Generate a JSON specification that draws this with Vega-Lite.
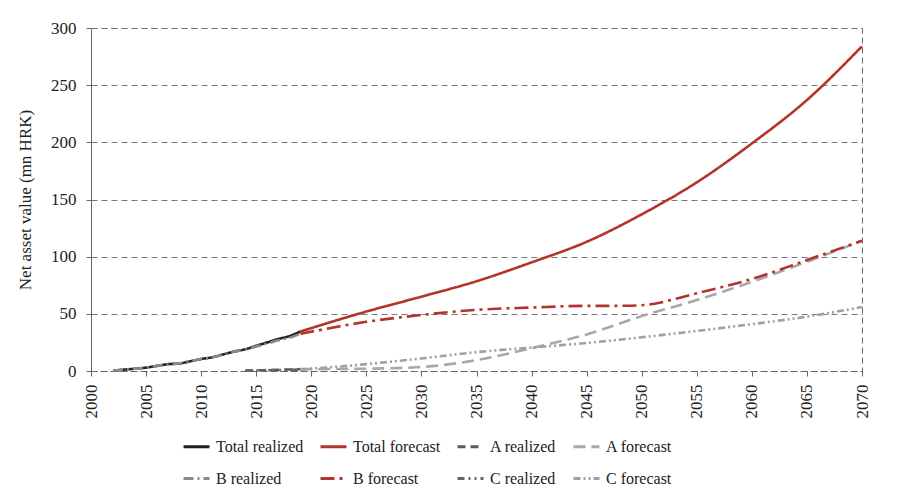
{
  "$schema": "https://vega.github.io/schema/vega-lite/v6.json",
  "width": 771,
  "height": 343,
  "autosize": {"type": "none"},
  "padding": {"left": 91, "top": 28, "right": 38, "bottom": 122},
  "background": "white",
  "config": {
    "font": "Liberation Serif",
    "view": {"stroke": "#666", "strokeDash": [6, 4], "strokeWidth": 1},
    "axis": {
      "labelFont": "Liberation Serif",
      "titleFont": "Liberation Serif",
      "labelFontSize": 17,
      "titleFontSize": 17,
      "labelColor": "#222",
      "titleColor": "#222",
      "titleFontWeight": "normal",
      "domainColor": "#666",
      "domainDash": [6, 4],
      "tickColor": "#666",
      "tickSize": 5,
      "gridColor": "#777",
      "gridDash": [6, 4]
    },
    "legend": {
      "labelFont": "Liberation Serif",
      "labelFontSize": 16,
      "labelColor": "#222"
    }
  },
  "data": {
    "values": [
      {"year": 2002, "value": 0.3, "series": "Total realized"},
      {"year": 2003, "value": 1.2, "series": "Total realized"},
      {"year": 2004, "value": 2.0, "series": "Total realized"},
      {"year": 2005, "value": 3.0, "series": "Total realized"},
      {"year": 2006, "value": 4.5, "series": "Total realized"},
      {"year": 2007, "value": 6.0, "series": "Total realized"},
      {"year": 2008, "value": 6.5, "series": "Total realized"},
      {"year": 2009, "value": 8.5, "series": "Total realized"},
      {"year": 2010, "value": 10.5, "series": "Total realized"},
      {"year": 2011, "value": 12.0, "series": "Total realized"},
      {"year": 2012, "value": 14.5, "series": "Total realized"},
      {"year": 2013, "value": 17.0, "series": "Total realized"},
      {"year": 2014, "value": 19.0, "series": "Total realized"},
      {"year": 2015, "value": 22.0, "series": "Total realized"},
      {"year": 2016, "value": 25.0, "series": "Total realized"},
      {"year": 2017, "value": 28.0, "series": "Total realized"},
      {"year": 2018, "value": 30.5, "series": "Total realized"},
      {"year": 2019, "value": 34.5, "series": "Total realized"},

      {"year": 2019, "value": 34.5, "series": "Total forecast"},
      {"year": 2025, "value": 52, "series": "Total forecast"},
      {"year": 2030, "value": 65, "series": "Total forecast"},
      {"year": 2035, "value": 78.5, "series": "Total forecast"},
      {"year": 2040, "value": 95, "series": "Total forecast"},
      {"year": 2045, "value": 113, "series": "Total forecast"},
      {"year": 2050, "value": 137, "series": "Total forecast"},
      {"year": 2055, "value": 165, "series": "Total forecast"},
      {"year": 2060, "value": 199, "series": "Total forecast"},
      {"year": 2065, "value": 237, "series": "Total forecast"},
      {"year": 2070, "value": 284, "series": "Total forecast"},

      {"year": 2014, "value": 0.3, "series": "A realized"},
      {"year": 2015, "value": 0.6, "series": "A realized"},
      {"year": 2016, "value": 0.8, "series": "A realized"},
      {"year": 2017, "value": 1.0, "series": "A realized"},
      {"year": 2018, "value": 1.3, "series": "A realized"},
      {"year": 2019, "value": 1.6, "series": "A realized"},

      {"year": 2019, "value": 1.6, "series": "A forecast"},
      {"year": 2025, "value": 2.0, "series": "A forecast"},
      {"year": 2030, "value": 3.5, "series": "A forecast"},
      {"year": 2035, "value": 9.5, "series": "A forecast"},
      {"year": 2040, "value": 20, "series": "A forecast"},
      {"year": 2045, "value": 32, "series": "A forecast"},
      {"year": 2050, "value": 48, "series": "A forecast"},
      {"year": 2055, "value": 62, "series": "A forecast"},
      {"year": 2060, "value": 78, "series": "A forecast"},
      {"year": 2065, "value": 95.5, "series": "A forecast"},
      {"year": 2070, "value": 114, "series": "A forecast"},

      {"year": 2002, "value": 0.3, "series": "B realized"},
      {"year": 2003, "value": 1.2, "series": "B realized"},
      {"year": 2004, "value": 2.0, "series": "B realized"},
      {"year": 2005, "value": 3.0, "series": "B realized"},
      {"year": 2006, "value": 4.5, "series": "B realized"},
      {"year": 2007, "value": 6.0, "series": "B realized"},
      {"year": 2008, "value": 6.5, "series": "B realized"},
      {"year": 2009, "value": 8.5, "series": "B realized"},
      {"year": 2010, "value": 10.5, "series": "B realized"},
      {"year": 2011, "value": 12.0, "series": "B realized"},
      {"year": 2012, "value": 14.5, "series": "B realized"},
      {"year": 2013, "value": 17.0, "series": "B realized"},
      {"year": 2014, "value": 18.7, "series": "B realized"},
      {"year": 2015, "value": 21.4, "series": "B realized"},
      {"year": 2016, "value": 24.0, "series": "B realized"},
      {"year": 2017, "value": 26.8, "series": "B realized"},
      {"year": 2018, "value": 29.0, "series": "B realized"},
      {"year": 2019, "value": 32.5, "series": "B realized"},

      {"year": 2019, "value": 32.5, "series": "B forecast"},
      {"year": 2025, "value": 43, "series": "B forecast"},
      {"year": 2030, "value": 49, "series": "B forecast"},
      {"year": 2035, "value": 53.5, "series": "B forecast"},
      {"year": 2040, "value": 55.5, "series": "B forecast"},
      {"year": 2045, "value": 57, "series": "B forecast"},
      {"year": 2048, "value": 57, "series": "B forecast"},
      {"year": 2050, "value": 57.5, "series": "B forecast"},
      {"year": 2055, "value": 68, "series": "B forecast"},
      {"year": 2060, "value": 80.5, "series": "B forecast"},
      {"year": 2065, "value": 97, "series": "B forecast"},
      {"year": 2070, "value": 114, "series": "B forecast"},

      {"year": 2014, "value": 0.2, "series": "C realized"},
      {"year": 2015, "value": 0.4, "series": "C realized"},
      {"year": 2016, "value": 0.6, "series": "C realized"},
      {"year": 2017, "value": 0.8, "series": "C realized"},
      {"year": 2018, "value": 1.0, "series": "C realized"},
      {"year": 2019, "value": 1.3, "series": "C realized"},

      {"year": 2019, "value": 1.3, "series": "C forecast"},
      {"year": 2025, "value": 6, "series": "C forecast"},
      {"year": 2030, "value": 11, "series": "C forecast"},
      {"year": 2035, "value": 16.5, "series": "C forecast"},
      {"year": 2040, "value": 20.5, "series": "C forecast"},
      {"year": 2045, "value": 24.5, "series": "C forecast"},
      {"year": 2050, "value": 29.5, "series": "C forecast"},
      {"year": 2055, "value": 35, "series": "C forecast"},
      {"year": 2060, "value": 41, "series": "C forecast"},
      {"year": 2065, "value": 47.5, "series": "C forecast"},
      {"year": 2070, "value": 56, "series": "C forecast"}
    ]
  },
  "mark": {"type": "line", "strokeWidth": 2.6, "interpolate": "monotone"},
  "encoding": {
    "x": {
      "field": "year",
      "type": "quantitative",
      "scale": {"domain": [2000, 2070], "nice": false, "zero": false},
      "axis": {
        "title": null,
        "values": [2000, 2005, 2010, 2015, 2020, 2025, 2030, 2035, 2040, 2045, 2050, 2055, 2060, 2065, 2070],
        "format": "d",
        "labelAngle": -90,
        "labelAlign": "right",
        "labelBaseline": "middle",
        "labelPadding": 8,
        "grid": false
      }
    },
    "y": {
      "field": "value",
      "type": "quantitative",
      "scale": {"domain": [0, 300], "nice": false},
      "axis": {
        "title": "Net asset value (mn HRK)",
        "values": [0, 50, 100, 150, 200, 250, 300],
        "labelPadding": 10,
        "titlePadding": 16,
        "grid": true
      }
    },
    "color": {
      "field": "series",
      "type": "nominal",
      "scale": {
        "domain": ["Total realized", "Total forecast", "A realized", "A forecast", "B realized", "B forecast", "C realized", "C forecast"],
        "range": ["#222222", "#b3342b", "#5a5a5a", "#a8a8a8", "#8a8a8a", "#b3342b", "#666666", "#a0a0a0"]
      },
      "legend": {
        "title": null,
        "orient": "none",
        "legendX": 91,
        "legendY": 404,
        "direction": "horizontal",
        "columns": 4,
        "symbolType": "stroke",
        "symbolSize": 676,
        "symbolStrokeWidth": 3,
        "labelOffset": 5,
        "columnPadding": 10,
        "rowPadding": 9
      }
    },
    "strokeDash": {
      "field": "series",
      "type": "nominal",
      "scale": {
        "domain": ["Total realized", "Total forecast", "A realized", "A forecast", "B realized", "B forecast", "C realized", "C forecast"],
        "range": [[1, 0], [1, 0], [8, 5], [12, 6], [10, 4, 2, 4], [14, 5, 3, 5], [7, 4, 2, 4, 2, 4], [7, 3, 2, 3, 2, 3]]
      }
    }
  }
}
